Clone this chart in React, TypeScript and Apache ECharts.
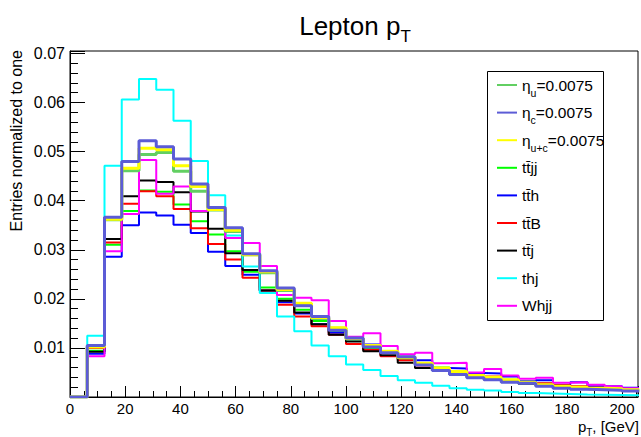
import React, { useEffect, useRef } from 'react';
import * as echarts from 'echarts';

const BIN_WIDTH = 6.25;
const X_MAX = 205.8;
const Y_MAX = 0.0705;
const FONT = 'Liberation Sans, Arial, Helvetica, sans-serif';

const xTickLabels = [0, 20, 40, 60, 80, 100, 120, 140, 160, 180, 200];
const yTickLabels = ['0.01', '0.02', '0.03', '0.04', '0.05', '0.06', '0.07'];

const etaU = [0, 0.0103, 0.0361, 0.0461, 0.0494, 0.0498, 0.0460, 0.0419, 0.0381, 0.0337, 0.0290, 0.0253, 0.0217, 0.0190, 0.0160, 0.0140, 0.0118, 0.0104, 0.0092, 0.0080, 0.0068, 0.0058, 0.0050, 0.0043, 0.0038, 0.0033, 0.0029, 0.0024, 0.0021, 0.0019, 0.0017, 0.0016, 0.0014];
const etaC = [0, 0.0105, 0.0366, 0.0480, 0.0522, 0.0510, 0.0485, 0.0434, 0.0386, 0.0345, 0.0292, 0.0257, 0.0222, 0.0186, 0.0164, 0.0136, 0.0120, 0.0102, 0.0090, 0.0082, 0.0065, 0.0054, 0.0046, 0.0039, 0.0035, 0.0030, 0.0028, 0.0022, 0.0018, 0.0016, 0.0015, 0.0014, 0.0012];
const etaUC = [0, 0.0102, 0.0362, 0.0466, 0.0507, 0.0504, 0.0471, 0.0429, 0.0382, 0.0340, 0.0290, 0.0255, 0.0219, 0.0191, 0.0162, 0.0141, 0.0119, 0.0105, 0.0093, 0.0081, 0.0069, 0.0059, 0.0052, 0.0044, 0.0040, 0.0035, 0.0030, 0.0025, 0.0022, 0.0020, 0.0018, 0.0017, 0.0015];
const ttjj = [0, 0.0094, 0.0310, 0.0379, 0.0421, 0.0418, 0.0392, 0.0358, 0.0331, 0.0297, 0.0255, 0.0223, 0.0200, 0.0178, 0.0155, 0.0133, 0.0117, 0.0100, 0.0090, 0.0078, 0.0069, 0.0060, 0.0052, 0.0045, 0.0041, 0.0035, 0.0031, 0.0027, 0.0023, 0.0021, 0.0019, 0.0017, 0.0015];
const tth = [0, 0.0088, 0.0286, 0.0350, 0.0376, 0.0370, 0.0351, 0.0334, 0.0296, 0.0267, 0.0249, 0.0217, 0.0193, 0.0170, 0.0148, 0.0131, 0.0117, 0.0107, 0.0092, 0.0082, 0.0075, 0.0059, 0.0058, 0.0049, 0.0048, 0.0042, 0.0032, 0.0034, 0.0025, 0.0030, 0.0022, 0.0022, 0.0019];
const ttB = [0, 0.0100, 0.0315, 0.0394, 0.0419, 0.0409, 0.0383, 0.0344, 0.0312, 0.0280, 0.0243, 0.0217, 0.0188, 0.0164, 0.0144, 0.0127, 0.0108, 0.0096, 0.0083, 0.0075, 0.0064, 0.0056, 0.0050, 0.0044, 0.0042, 0.0034, 0.0030, 0.0028, 0.0024, 0.0022, 0.0019, 0.0018, 0.0016];
const ttj = [0, 0.0092, 0.0322, 0.0409, 0.0441, 0.0438, 0.0417, 0.0378, 0.0343, 0.0293, 0.0259, 0.0217, 0.0196, 0.0172, 0.0148, 0.0127, 0.0113, 0.0093, 0.0085, 0.0070, 0.0059, 0.0054, 0.0046, 0.0041, 0.0035, 0.0031, 0.0027, 0.0024, 0.0021, 0.0019, 0.0017, 0.0015, 0.0013];
const thj = [0, 0.0125, 0.0471, 0.0606, 0.0648, 0.0626, 0.0563, 0.0481, 0.0411, 0.0329, 0.0266, 0.0212, 0.0164, 0.0134, 0.0105, 0.0083, 0.0066, 0.0055, 0.0043, 0.0034, 0.0029, 0.0023, 0.0018, 0.0015, 0.0013, 0.0010, 0.0008, 0.0007, 0.0006, 0.0005, 0.00045, 0.0004, 0.00035];
const whjj = [0, 0.0083, 0.0297, 0.0373, 0.0483, 0.0414, 0.0429, 0.0379, 0.0384, 0.0324, 0.0314, 0.0267, 0.0208, 0.0202, 0.0197, 0.0155, 0.0123, 0.0130, 0.0104, 0.0087, 0.0090, 0.0069, 0.0070, 0.0050, 0.0057, 0.0044, 0.0037, 0.0039, 0.0029, 0.0030, 0.0025, 0.0022, 0.0018];

const seriesDefs = [
  { name: 'tt̄jj', rich: '{m|tt̄jj}{s| }', data: ttjj, color: '#00ff00', width: 2, z: 2 },
  { name: 'tt̄h', rich: '{m|tt̄h}{s| }', data: tth, color: '#0000ff', width: 2, z: 2 },
  { name: 'tt̄B', rich: '{m|tt̄B}{s| }', data: ttB, color: '#ff0000', width: 2, z: 2 },
  { name: 'tt̄j', rich: '{m|tt̄j}{s| }', data: ttj, color: '#000000', width: 2, z: 2 },
  { name: 'thj', rich: '{m|thj}{s| }', data: thj, color: '#00ffff', width: 2, z: 2 },
  { name: 'Whjj', rich: '{m|Whjj}{s| }', data: whjj, color: '#ff00ff', width: 2, z: 2 },
  { name: 'η_u=0.0075', rich: '{m|η}{s|u}{m|=0.0075}', data: etaU, color: '#62cf62', width: 3, z: 3 },
  { name: 'η_u+c=0.0075', rich: '{m|η}{s|u+c}{m|=0.0075}', data: etaUC, color: '#ffff00', width: 3, z: 3 },
  { name: 'η_c=0.0075', rich: '{m|η}{s|c}{m|=0.0075}', data: etaC, color: '#5c5cd6', width: 3, z: 3 },
];

const legendOrder = ['η_u=0.0075', 'η_c=0.0075', 'η_u+c=0.0075', 'tt̄jj', 'tt̄h', 'tt̄B', 'tt̄j', 'thj', 'Whjj'];

function toSteps(vals: number[]) {
  const pts: number[][] = [];
  vals.forEach((v, i) => {
    pts.push([i * BIN_WIDTH, v]);
    pts.push([(i + 1) * BIN_WIDTH, v]);
  });
  return pts;
}

export default function App() {
  const ref = useRef<HTMLDivElement>(null);
  useEffect(() => {
    if (!ref.current) return;
    const chart = echarts.init(ref.current, undefined, { renderer: 'svg' });
    const richMap: Record<string, string> = {};
    seriesDefs.forEach((s) => (richMap[s.name] = s.rich));
    const axisBlack = { color: '#000', width: 1 };
    chart.setOption({
      animation: false,
      backgroundColor: '#fff',
      grid: { left: 70, right: 2, top: 51, bottom: 40, show: true, borderColor: '#000', borderWidth: 1, backgroundColor: 'transparent' },
      xAxis: [
        {
          type: 'value', min: 0, max: X_MAX, interval: 20, position: 'bottom',
          axisLine: { show: true, lineStyle: axisBlack },
          axisTick: { show: true, inside: true, length: 11, lineStyle: axisBlack },
          splitLine: { show: false },
          axisLabel: {
            show: true, margin: 4, color: '#000', fontSize: 15, fontFamily: FONT,
            formatter: (v: number) => (xTickLabels.some((t) => Math.abs(t - v) < 1e-6) ? String(Math.round(v)) : ''),
          },
        },
        {
          type: 'value', min: 0, max: X_MAX, interval: 5, position: 'bottom',
          axisLine: { show: false },
          axisTick: { show: true, inside: true, length: 6, lineStyle: axisBlack },
          splitLine: { show: false },
          axisLabel: { show: false },
        },
      ],
      yAxis: [
        {
          type: 'value', min: 0, max: Y_MAX, interval: 0.01, position: 'left',
          axisLine: { show: true, lineStyle: axisBlack },
          axisTick: { show: true, inside: true, length: 15, lineStyle: axisBlack },
          splitLine: { show: false },
          axisLabel: {
            show: true, margin: 5, color: '#000', fontSize: 16, fontFamily: FONT,
            formatter: (v: number) => {
              const s = v.toFixed(2);
              return yTickLabels.includes(s) && Math.abs(v - parseFloat(s)) < 1e-6 ? s : '';
            },
          },
        },
        {
          type: 'value', min: 0, max: Y_MAX, interval: 0.002, position: 'left',
          axisLine: { show: false },
          axisTick: { show: true, inside: true, length: 8, lineStyle: axisBlack },
          splitLine: { show: false },
          axisLabel: { show: false },
        },
      ],
      legend: {
        data: legendOrder,
        orient: 'vertical',
        left: 492,
        top: 70,
        itemWidth: 20,
        itemHeight: 2,
        itemGap: 4.6,
        icon: 'rect',
        selectedMode: false,
        formatter: (name: string) => richMap[name] || name,
        textStyle: {
          color: '#000', fontSize: 15.5, fontFamily: FONT, lineHeight: 20,
          rich: {
            m: { fontSize: 15.5, fontFamily: FONT, color: '#000', lineHeight: 20 },
            s: { fontSize: 10.5, fontFamily: FONT, color: '#000', lineHeight: 20, verticalAlign: 'bottom', padding: [0, 0, -3, 0] },
          },
        },
      },
      series: seriesDefs.map((s) => ({
        name: s.name,
        type: 'line',
        xAxisIndex: 0,
        yAxisIndex: 0,
        data: toSteps(s.data),
        showSymbol: false,
        symbol: 'none',
        clip: true,
        silent: true,
        z: s.z,
        color: s.color,
        itemStyle: { color: s.color },
        lineStyle: { color: s.color, width: s.width },
      })),
      graphic: {
        elements: [
          {
            type: 'rect', z: 1, silent: true,
            shape: { x: 487.5, y: 71.5, width: 116, height: 249 },
            style: { fill: '#fff', stroke: '#000', lineWidth: 1 },
          },
          {
            type: 'text', x: 355, y: 26, z: 10,
            style: {
              text: '{a|Lepton p}{s|T}', align: 'center', verticalAlign: 'middle',
              rich: {
                a: { fontSize: 26, fontFamily: FONT, fill: '#000', lineHeight: 30 },
                s: { fontSize: 17, fontFamily: FONT, fill: '#000', lineHeight: 30, verticalAlign: 'bottom', padding: [0, 0, -4, 0] },
              },
            },
          },
          {
            type: 'text', x: 16, y: 50, rotation: Math.PI / 2, z: 10,
            style: { text: 'Entries normalized to one', align: 'right', verticalAlign: 'middle', fontSize: 16, fontFamily: FONT, fill: '#000' },
          },
          {
            type: 'text', x: 639, y: 426, z: 10,
            style: {
              text: '{a|p}{s|T}{a|, [GeV]}', align: 'right', verticalAlign: 'middle',
              rich: {
                a: { fontSize: 15, fontFamily: FONT, fill: '#000', lineHeight: 16 },
                s: { fontSize: 10, fontFamily: FONT, fill: '#000', lineHeight: 16, verticalAlign: 'bottom', padding: [0, 0, -3, 0] },
              },
            },
          },
        ],
      },
    });
    return () => chart.dispose();
  }, []);
  return <div ref={ref} style={{ position: 'fixed', left: 0, top: 0, width: 641, height: 437 }} />;
}
